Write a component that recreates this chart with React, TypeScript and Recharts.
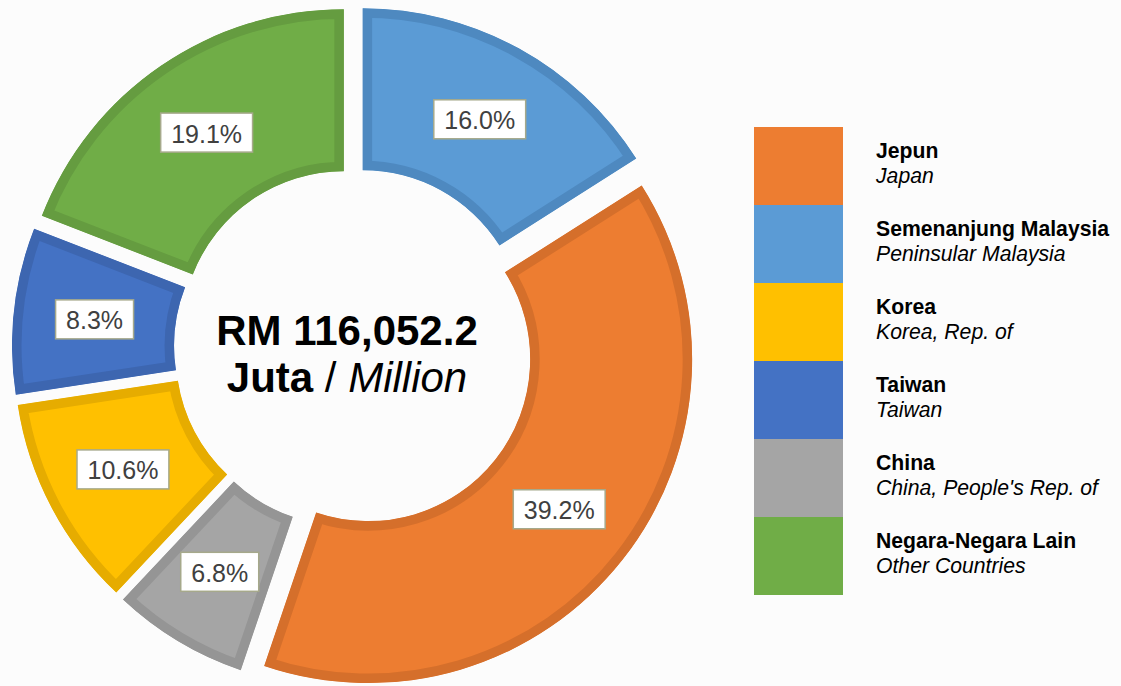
import React from "react";
import { Legend, Pie, PieChart, Sector } from "recharts";

// Clockwise from 12 o'clock, as in the reference
const COUNTRIES = ["Semenanjung Malaysia", "Jepun", "China", "Korea", "Taiwan", "Negara-Negara Lain"];
const COUNTRIES_EN = ["Peninsular Malaysia", "Japan", "China, People's Rep. of", "Korea, Rep. of", "Taiwan", "Other Countries"];
const SHARES = [16.0, 39.2, 6.8, 10.6, 8.3, 19.1];
const LEGEND_ORDER = ["Jepun", "Semenanjung Malaysia", "Korea", "Taiwan", "China", "Negara-Negara Lain"];
const TOTAL_VALUE = "RM 116,052.2";

const FILLS = ["#5B9BD5", "#ED7D31", "#A5A5A5", "#FFC000", "#4472C4", "#70AD47"];
const EDGES = ["#4E89C0", "#D56F2B", "#959595", "#E6AC00", "#3D66B0", "#659C40"];

const DATA = COUNTRIES.map((name, i) => ({ name, en: COUNTRIES_EN[i], value: SHARES[i], fill: FILLS[i] }));

const FONT = "'Liberation Sans', Arial, sans-serif";
const EXPLODE = 18;
const RAD = Math.PI / 180;
const LABEL_SIZE = 25;

// rough Arial advance widths, for sizing the label boxes
function textWidth(s: string): number {
  let w = 0;
  for (const ch of s) w += ch === "." ? 0.278 : ch === "%" ? 0.889 : 0.556;
  return w * LABEL_SIZE;
}

function Slice(props: any) {
  const i = COUNTRIES.indexOf(props.payload?.name ?? props.name);
  const dx = EXPLODE * Math.cos(-props.midAngle * RAD);
  const dy = EXPLODE * Math.sin(-props.midAngle * RAD);
  const geom = {
    cx: props.cx + dx,
    cy: props.cy + dy,
    innerRadius: props.innerRadius,
    outerRadius: props.outerRadius,
    startAngle: props.startAngle,
    endAngle: props.endAngle,
  };
  const id = `slice-clip-${i}`;
  return (
    <g>
      <defs>
        <clipPath id={id}>
          <Sector {...geom} />
        </clipPath>
      </defs>
      <Sector
        {...geom}
        fill={FILLS[i]}
        stroke={EDGES[i]}
        strokeWidth={19}
        clipPath={`url(#${id})`}
      />
    </g>
  );
}

function renderLabel(p: any) {
  const i = p.index;
  const r = EXPLODE + (p.innerRadius + p.outerRadius) / 2;
  const x = p.cx + r * Math.cos(-p.midAngle * RAD);
  const y = p.cy + r * Math.sin(-p.midAngle * RAD);
  const text = `${SHARES[i].toFixed(1)}%`;
  const w = textWidth(text) + 21;
  return (
    <g key={`lbl-${i}`}>
      <rect x={x - w / 2} y={y - 19.5} width={w} height={39} fill="#FFFFFF" stroke="#A6A98B" strokeWidth={1.5} />
      <text
        x={x}
        y={y + 1}
        textAnchor="middle"
        dominantBaseline="central"
        fontFamily={FONT}
        fontSize={LABEL_SIZE}
        fill="#404040"
      >
        {text}
      </text>
    </g>
  );
}

function LegendBlock() {
  return (
    <svg width={367} height={470}>
      {LEGEND_ORDER.map((name, k) => {
        const i = COUNTRIES.indexOf(name);
        const top = k * 78;
        return (
          <g key={name}>
            <rect x={0} y={top} width={89} height={78} fill={FILLS[i]} />
            <text x={122} y={top + 31} fontFamily={FONT} fontSize={21.2} fontWeight="bold" fill="#000">
              {name}
            </text>
            <text x={122} y={top + 56} fontFamily={FONT} fontSize={21.2} fontStyle="italic" fill="#000">
              {COUNTRIES_EN[i]}
            </text>
          </g>
        );
      })}
    </svg>
  );
}

export default function App() {
  return (
    <div style={{ width: 1121, height: 686, background: "#FCFCFC" }}>
      <style>{"body{margin:0;background:#FCFCFC}"}</style>
      <PieChart width={1121} height={686} margin={{ top: 0, right: 0, bottom: 0, left: 0 }}>
        <Pie
          data={DATA}
          dataKey="value"
          nameKey="name"
          cx={354}
          cy={348}
          innerRadius={162}
          outerRadius={324}
          startAngle={90}
          endAngle={-270}
          stroke="none"
          shape={Slice}
          label={renderLabel}
          labelLine={false}
          isAnimationActive={false}
        />
        <text x={347} y={345} textAnchor="middle" fontFamily={FONT} fontSize={42} fontWeight="bold" fill="#000">
          {TOTAL_VALUE}
        </text>
        <text x={347} y={392} textAnchor="middle" fontFamily={FONT} fontSize={42} fill="#000">
          <tspan fontWeight="bold">Juta</tspan>
          <tspan> / </tspan>
          <tspan fontStyle="italic">Million</tspan>
        </text>
        <Legend
          layout="vertical"
          content={() => <LegendBlock />}
          wrapperStyle={{ left: 754, top: 127, width: 367 }}
        />
      </PieChart>
    </div>
  );
}
